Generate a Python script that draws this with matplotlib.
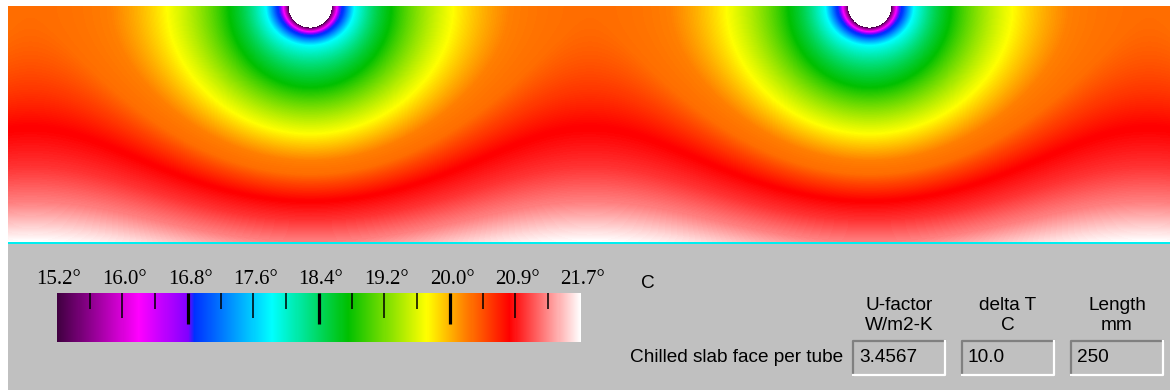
import numpy as np
import matplotlib
matplotlib.use("Agg")
import matplotlib.pyplot as plt
from matplotlib.colors import LinearSegmentedColormap, Normalize
from matplotlib.patches import Rectangle
from matplotlib.lines import Line2D
import matplotlib.colorbar as mcolorbar

# slab geometry (mm) - one tube every 250 mm, tubes sit on the top edge
tube_x = [134.8, 384.8]
tube_r = 9.4
slab_w = 518.8
slab_h = 104.9

# temperatures read straight below a tube (depth mm -> deg C)
under_depth = [9.4, 9.8, 11.2, 12.1, 13.4, 15.2, 17.4, 36.2, 56.7, 68.8, 86.6, 104.9]
under_temp = [15.2, 15.5, 16.2, 16.83, 16.95, 17.4, 17.87, 18.81, 19.78, 20.27, 20.82, 21.25]
# temperatures read half way between two tubes
mid_depth = [0.0, 55.4, 71.9, 86.6, 98.7, 104.9]
mid_temp = [20.35, 20.82, 21.0, 21.25, 21.55, 21.7]

# colour scale
t_min, t_max = 15.2, 21.7
scale_labels = ['15.2°', '16.0°', '16.8°', '17.6°', '18.4°', '19.2°', '20.0°', '20.9°', '21.7°']
cmap_pos = [0.0, 0.155, 0.25, 0.262, 0.41, 0.555, 0.706, 0.78, 0.865, 1.0]
cmap_col = ['#400040', '#ff00ff', '#8000ff', '#0030ff', '#00ffff', '#00c000',
            '#ffff00', '#ff8000', '#ff0000', '#ffffff']

# results panel
row_label = 'Chilled slab face per tube'
col_heads = [('U-factor', 'W/m2-K'), ('delta T', 'C'), ('Length', 'mm')]
col_values = ['3.4567', '10.0', '250']

W, H = 1170, 390
fig = plt.figure(figsize=(W / 100, H / 100), dpi=100, facecolor='white')

def fx(x):
    return x / W

def fy(y):
    return (H - y) / H

cmap = LinearSegmentedColormap.from_list('therm', list(zip(cmap_pos, cmap_col)), N=512)
cmap.set_bad('white')
norm = Normalize(t_min, t_max)

# ---- isotherm field (shape of a row of line sinks, levels from the readings) ----
period = tube_x[1] - tube_x[0]
kx = 2 * np.pi / period
ky = kx * 0.936

def phi(x, d):
    x = np.asarray(x, dtype=float)
    d = np.asarray(d, dtype=float)
    dx = (x - tube_x[0] + period / 2) % period - period / 2
    r = np.hypot(dx, d)
    s = 1 - 0.17 * np.exp(-((r - 18) / 10) ** 2)   # rings a bit wider near the tube
    return np.log(np.cosh(ky * d) - np.cos(kx * dx * s) + 1e-12)

p_tab = np.concatenate([phi(tube_x[0], under_depth), phi(tube_x[0] + period / 2, mid_depth)])
t_tab = np.concatenate([under_temp, mid_temp])
order = np.argsort(p_tab)
p_tab, t_tab = p_tab[order], t_tab[order]

xs = np.linspace(0, slab_w, 1162)
ds = np.linspace(0, slab_h, 236)
X, D = np.meshgrid(xs, ds)
P = phi(X, D)
T = np.interp(P, p_tab, t_tab)
T = np.ma.masked_where(P < phi(tube_x[0], tube_r), T)

ax = fig.add_axes([fx(8), fy(242), fx(1162), 236 / H])
ax.imshow(T, cmap=cmap, norm=norm, extent=[0, slab_w, slab_h, 0],
          aspect='auto', interpolation='nearest')
ax.set_axis_off()

# grey panel and cyan edge line
fig.patches.append(Rectangle((fx(8), 0), fx(1162), 146 / H, transform=fig.transFigure,
                             facecolor='#c0c0c0', edgecolor='none', zorder=-2))
fig.patches.append(Rectangle((fx(8), fy(244)), fx(1162), 2 / H, transform=fig.transFigure,
                             facecolor='#00eef0', edgecolor='none', zorder=1))

# ---- colour bar ----
cax = fig.add_axes([fx(57), fy(342), fx(524), 49 / H])
cb = mcolorbar.Colorbar(cax, cmap=cmap, norm=norm, orientation='horizontal')
cb.outline.set_visible(False)
cax.set_xticks([])
cax.set_yticks([])
tick_pos = np.linspace(t_min, t_max, 17)
trans = cax.get_xaxis_transform()
for j in range(1, 16):
    if j % 2 == 1:
        ln, lw = 0.33, 1.1
    elif j % 4 == 0:
        ln, lw = 0.64, 2.3
    else:
        ln, lw = 0.52, 1.1
    cax.plot([tick_pos[j]] * 2, [1, 1 - ln], color='black', lw=lw, transform=trans,
             solid_capstyle='butt', clip_on=False)
off = 2 / 524 * (t_max - t_min)
for i, lab in enumerate(scale_labels):
    cax.text(tick_pos[2 * i] + off, 1 + 13 / 49, lab, transform=trans, ha='center', va='center',
             family='Liberation Serif', fontsize=15, color='black')

sans = dict(family='Liberation Sans', fontsize=13.7, color='black')
fig.text(fx(648), fy(283), 'C', ha='center', va='center', **sans)

# ---- results boxes ----
box_left = [853, 962, 1071]
box_w = 92
box_top, box_bot = 341, 375
for (h1, h2), val, bl in zip(col_heads, col_values, box_left):
    cx = bl + box_w / 2
    fig.text(fx(cx), fy(305), h1, ha='center', va='center', **sans)
    fig.text(fx(cx), fy(325), h2, ha='center', va='center', **sans)
    fig.patches.append(Rectangle((fx(bl), fy(box_bot)), fx(box_w), (box_bot - box_top) / H,
                                 transform=fig.transFigure, facecolor='#c0c0c0',
                                 edgecolor='none', zorder=1))
    # sunken border
    fig.lines.append(Line2D([fx(bl), fx(bl), fx(bl + box_w)], [fy(box_bot), fy(box_top), fy(box_top)],
                            transform=fig.transFigure, color='#808080', lw=1.6, zorder=2))
    fig.lines.append(Line2D([fx(bl), fx(bl + box_w), fx(bl + box_w)], [fy(box_bot), fy(box_bot), fy(box_top)],
                            transform=fig.transFigure, color='white', lw=1.6, zorder=2))
    fig.text(fx(bl + 6), fy(358), val, ha='left', va='center', zorder=3, **sans)

fig.text(fx(843), fy(358), row_label, ha='right', va='center', **sans)

fig.savefig('out.png', dpi=100, facecolor='white')
